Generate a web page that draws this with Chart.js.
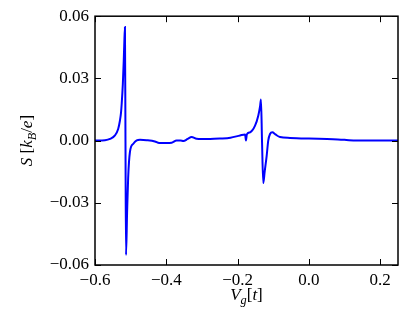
<!DOCTYPE html>
<html>
<head>
<meta charset="utf-8">
<script src="https://cdn.jsdelivr.net/npm/chart.js@4/dist/chart.umd.min.js"></script>
<style>
html,body{margin:0;padding:0;background:#fff;}
#c{display:block;}
</style>
</head>
<body>
<canvas id="c" width="415" height="312"></canvas>
<script>
const vg = [-0.60,-0.572,-0.558,-0.544,-0.535,-0.530,-0.527,-0.525,-0.522,-0.5195,-0.518,-0.516,-0.5145,-0.513,-0.510,-0.507,-0.502,-0.4925,-0.483,-0.4738,-0.455,-0.432,-0.42,-0.40,-0.385,-0.371,-0.36,-0.352,-0.34,-0.329,-0.315,-0.30,-0.277,-0.249,-0.22,-0.193,-0.179,-0.1765,-0.174,-0.165,-0.151,-0.142,-0.137,-0.1344,-0.1315,-0.128,-0.124,-0.1185,-0.114,-0.109,-0.1025,-0.094,-0.081,-0.053,0.0,0.0676,0.10,0.134,0.20,0.25];
const seebeck = [0.0000,0.0002,0.0008,0.0025,0.0056,0.0097,0.0135,0.0180,0.0270,0.0380,0.0460,0.0548,0.0000,-0.0552,-0.0350,-0.0180,-0.0055,-0.0015,0.0001,0.0004,0.0002,-0.0004,-0.0012,-0.0012,-0.0010,0.0001,0.0001,-0.0002,0.0008,0.0017,0.0009,0.0008,0.0008,0.0010,0.0014,0.0025,0.0030,0.0000,0.0030,0.0040,0.0072,0.0120,0.0165,0.0198,0.0000,-0.0205,-0.0150,-0.0075,0.0000,0.0032,0.0040,0.0030,0.0017,0.0013,0.0010,0.0007,0.0004,0.0000,0.0000,0.0000];
const xTicks = [-0.6,-0.4,-0.2,0.0,0.2];
const yTicks = [-0.06,-0.03,0.00,0.03,0.06];

const FONT = 'Liberation Serif';
const FS = 17;

function drawRich(ctx, parts, cx, cy){
  const subScale = 0.72;
  let total = 0;
  const ms = parts.map(p=>{
    const size = p.sub ? FS*subScale : FS;
    ctx.font = (p.it?'italic ':'') + size + 'px "' + FONT + '"';
    const w = ctx.measureText(p.t).width;
    total += w;
    return {p,size,w};
  });
  let x = cx - total/2;
  ctx.textBaseline = 'middle';
  ctx.textAlign = 'left';
  ms.forEach(m=>{
    ctx.font = (m.p.it?'italic ':'') + m.size + 'px "' + FONT + '"';
    ctx.fillText(m.p.t, x, cy + (m.p.sub ? FS*0.28 : 0));
    x += m.w;
  });
}

const decor = {
  id:'decor',
  afterDraw(chart){
    const ctx = chart.ctx;
    const a = chart.chartArea;
    const xs = chart.scales.x, ys = chart.scales.y;
    ctx.save();
    ctx.strokeStyle = '#000';
    ctx.lineWidth = 1;
    const tl = 6;
    xTicks.forEach(v=>{
      const px = Math.round(xs.getPixelForValue(v)) + 0.5;
      ctx.beginPath();
      ctx.moveTo(px, a.bottom); ctx.lineTo(px, a.bottom - tl);
      ctx.moveTo(px, a.top); ctx.lineTo(px, a.top + tl);
      ctx.stroke();
    });
    yTicks.forEach(v=>{
      const py = Math.round(ys.getPixelForValue(v)) + 0.5;
      ctx.beginPath();
      ctx.moveTo(a.left, py); ctx.lineTo(a.left + tl, py);
      ctx.moveTo(a.right, py); ctx.lineTo(a.right - tl, py);
      ctx.stroke();
    });
    ctx.lineWidth = 1.5;
    ctx.strokeRect(a.left, a.top, a.right - a.left, a.bottom - a.top);
    ctx.fillStyle = '#000';
    drawRich(ctx, [{t:'V',it:true},{t:'g',it:true,sub:true},{t:'[',it:false},{t:'t',it:true},{t:']',it:false}], (a.left+a.right)/2, 296);
    ctx.translate(28, (a.top+a.bottom)/2);
    ctx.rotate(-Math.PI/2);
    drawRich(ctx, [{t:'S',it:true},{t:' [',it:false},{t:'k',it:true},{t:'B',it:true,sub:true},{t:'/',it:false},{t:'e',it:true},{t:']',it:false}], 0, 0);
    ctx.restore();
  }
};

const fmt = (v,d)=> (Math.abs(v)<1e-9 ? (0).toFixed(d) : v.toFixed(d)).replace('-', '\u2212');

new Chart(document.getElementById('c'), {
  type:'line',
  data:{
    datasets:[{
      data: vg.map((x,i)=>({x:x, y:seebeck[i]})),
      borderColor:'#0000ff',
      borderWidth:2,
      pointRadius:0,
      fill:false,
      cubicInterpolationMode:'monotone'
    }]
  },
  options:{
    responsive:false,
    animation:false,
    devicePixelRatio:1,
    layout:{padding:{left:0,top:12,right:17,bottom:0}},
    plugins:{legend:{display:false},tooltip:{enabled:false}},
    scales:{
      x:{
        type:'linear', min:-0.6, max:0.25,
        afterBuildTicks(s){ s.ticks = xTicks.map(v=>({value:v})); },
        afterFit(s){ s.height = 47; },
        ticks:{ callback:(v)=>fmt(v,1), font:{family:FONT,size:FS}, color:'#000', padding:5, maxRotation:0, autoSkip:false },
        grid:{display:false, drawTicks:false},
        border:{display:false}
      },
      y:{
        type:'linear', min:-0.06, max:0.06,
        afterBuildTicks(s){ s.ticks = yTicks.map(v=>({value:v})); },
        afterFit(s){ s.width = 95; },
        ticks:{ callback:(v)=>fmt(v,2), font:{family:FONT,size:FS}, color:'#000', padding:6, autoSkip:false },
        grid:{display:false, drawTicks:false},
        border:{display:false}
      }
    }
  },
  plugins:[decor]
});
</script>
</body>
</html>
